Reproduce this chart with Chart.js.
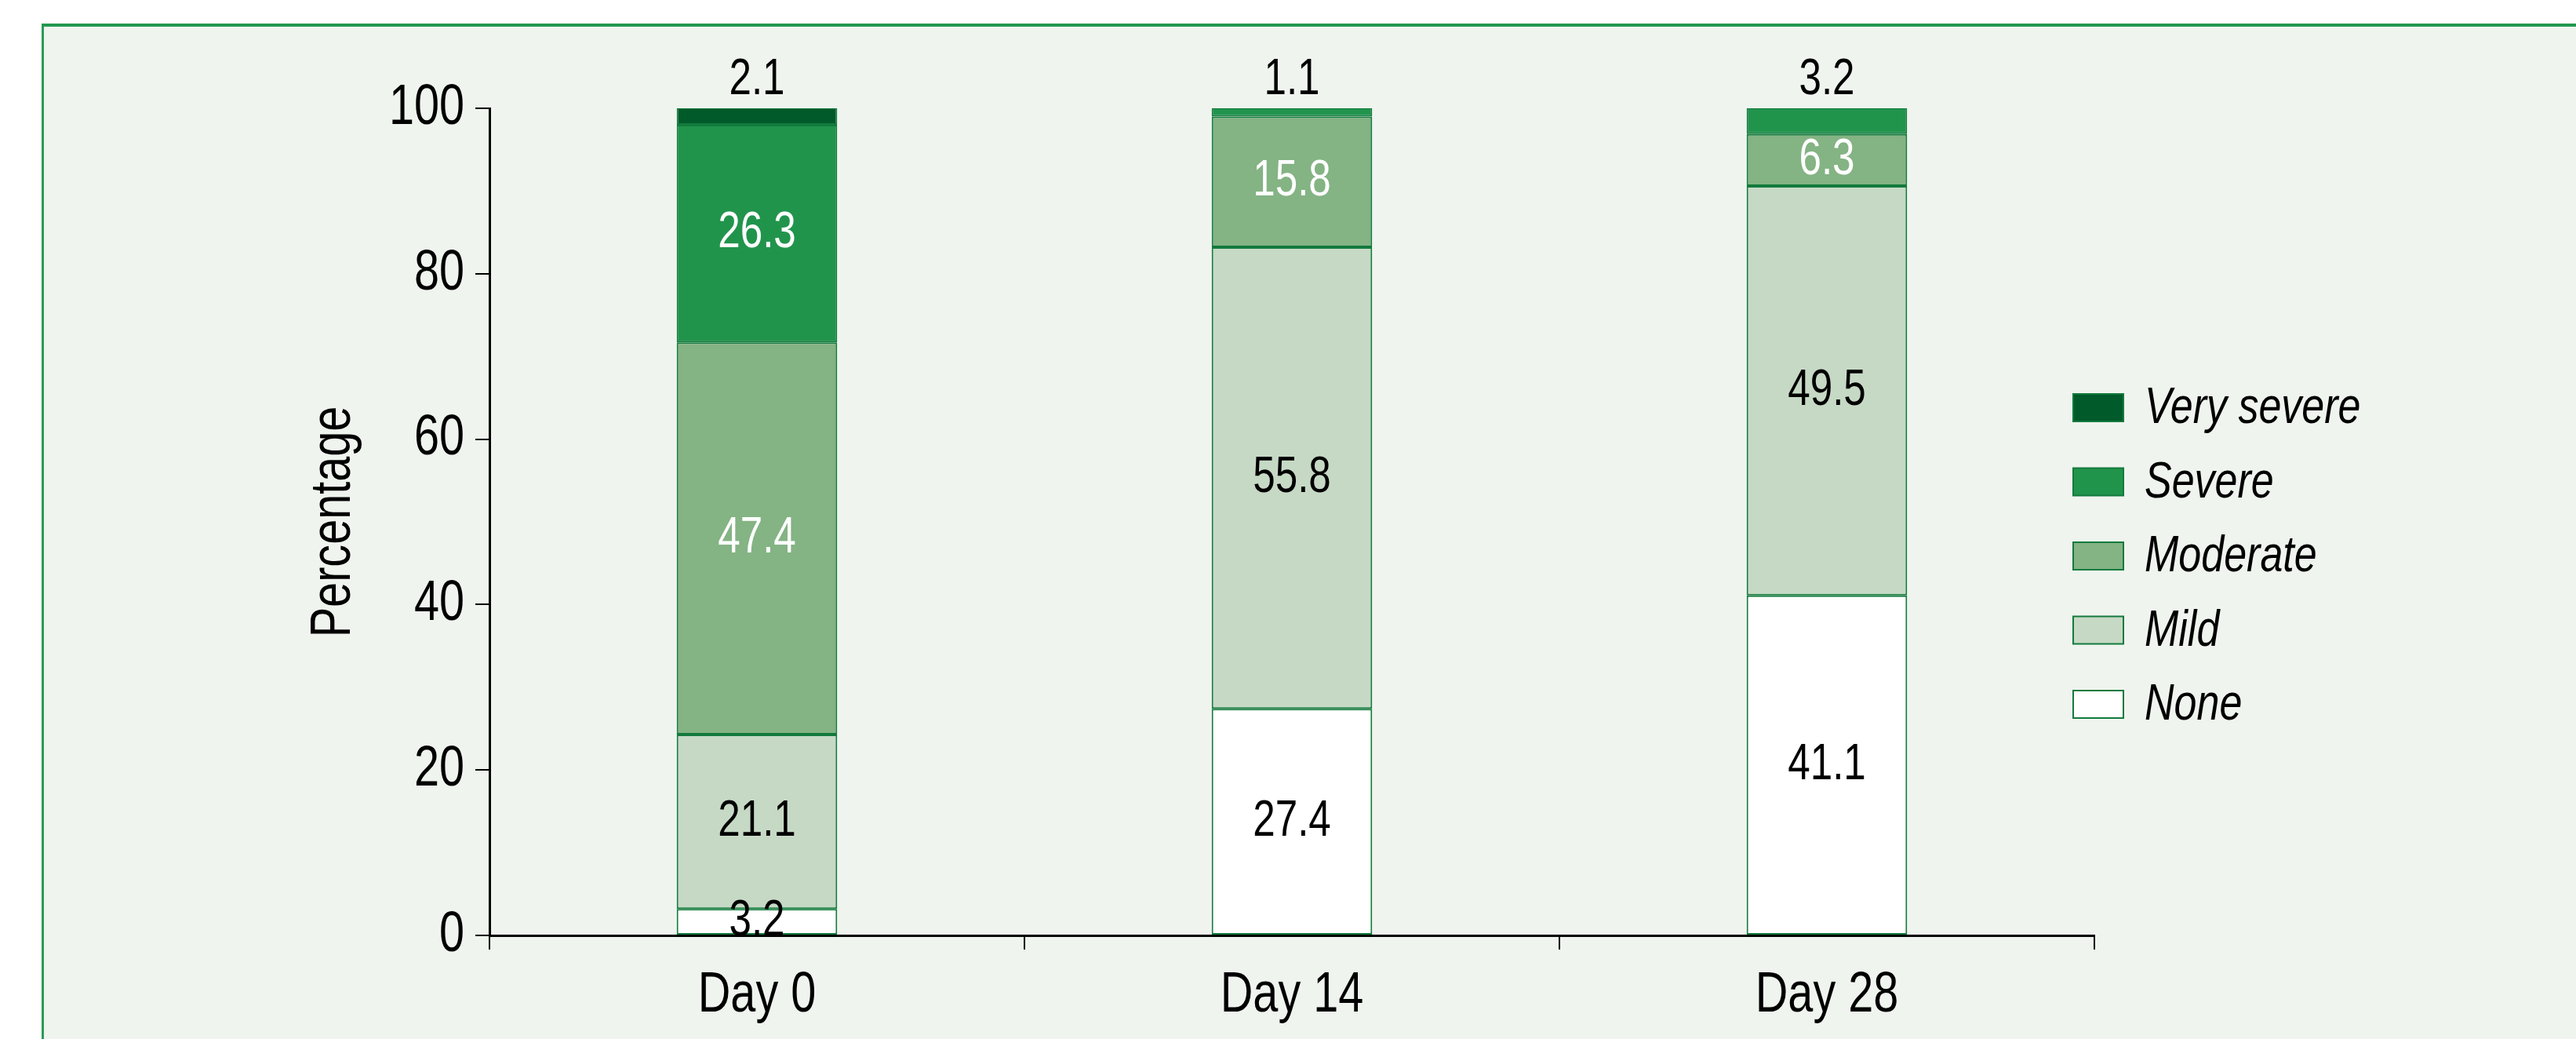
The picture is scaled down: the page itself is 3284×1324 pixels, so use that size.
<!DOCTYPE html>
<html>
<head>
<meta charset="utf-8">
<title>Severity by day</title>
<script src="https://cdn.jsdelivr.net/npm/chart.js@4.4.1/dist/chart.umd.min.js"></script>
<style>
  html, body { margin: 0; padding: 0; background: #fff; }
  body { width: 3284px; height: 1324px; position: relative; overflow: hidden; }
  .panel {
    position: absolute; left: 53px; top: 30px; right: 0; bottom: 0;
    background: #eff4ee;
    border-top: 4px solid #22984f;
    border-left: 3px solid #2a9a55;
  }
  .wrap { position: absolute; left: 0; top: 0; width: 3284px; height: 1324px; }
</style>
</head>
<body>
<div class="panel"></div>
<div class="wrap"><canvas id="severityChart"></canvas></div>
<script>
/* stacked severity bars, Day 0 / 14 / 28 */

const days = ['Day 0', 'Day 14', 'Day 28'];
const yTicks = [0, 20, 40, 60, 80, 100];

// bottom to top
const severityNames = ['None', 'Mild', 'Moderate', 'Severe', 'Very severe'];
const noneValues = [3.2, 27.4, 41.1];
const mildValues = [21.1, 55.8, 49.5];
const moderateValues = [47.4, 15.8, 6.3];
const severeValues = [26.3, 1.1, 3.2];
const verySevereValues = [2.1, 0, 0];

const fills = ['#ffffff', '#c6d9c5', '#84b384', '#21944c', '#005a2a'];
const textColours = ['#000', '#000', '#fff', '#fff', '#fff'];
const FONT = "'Liberation Sans Narrow', 'Arial Narrow', 'Liberation Sans', sans-serif";

const seriesValues = [noneValues, mildValues, moderateValues, severeValues, verySevereValues];

const datasets = severityNames.map((name, i) => ({
  label: name,
  data: seriesValues[i],
  backgroundColor: fills[i],
  borderColor: '#137a3d',
  borderWidth: 2,
  borderSkipped: false,
  categoryPercentage: 0.3,
  barPercentage: 1
}));

/* no narrow face installed: squeeze all canvas text horizontally */
const narrowText = {
  id: 'narrowText',
  beforeDraw(chart) {
    const ctx = chart.ctx;
    if (ctx._narrow) return;
    const fill = ctx.fillText.bind(ctx);
    ctx.fillText = function (text, x, y) {
      this.save();
      this.translate(x, y);
      this.scale(0.8, 1);
      fill(text, 0, 0);
      this.restore();
    };
    ctx._narrow = true;
  }
};

/* value labels: centred in segment, small top segments go above the bar */
const segmentLabels = {
  id: 'segmentLabels',
  afterDatasetsDraw(chart) {
    const ctx = chart.ctx;
    ctx.save();
    ctx.font = '64px ' + FONT;
    ctx.textAlign = 'center';
    ctx.textBaseline = 'middle';
    chart.data.labels.forEach((_, i) => {
      let top = -1;
      chart.data.datasets.forEach((ds, d) => { if (ds.data[i] > 0) top = d; });
      chart.data.datasets.forEach((ds, d) => {
        const v = ds.data[i];
        if (!v) return;
        const bar = chart.getDatasetMeta(d).data[i];
        if (d === top && v < 5) {
          ctx.fillStyle = '#000';
          ctx.fillText(v.toFixed(1), bar.x, chart.chartArea.top - 36);
        } else {
          ctx.fillStyle = textColours[d];
          ctx.fillText(v.toFixed(1), bar.x, (bar.y + bar.base) / 2);
        }
      });
    });
    ctx.restore();
  }
};

/* legend on the right, top entry = top of the stack */
const sideLegend = {
  id: 'sideLegend',
  afterDraw(chart) {
    const ctx = chart.ctx;
    const items = chart.data.datasets.slice().reverse();
    ctx.save();
    ctx.font = 'italic 65px ' + FONT;
    ctx.textAlign = 'left';
    ctx.textBaseline = 'middle';
    items.forEach((ds, i) => {
      const cy = 519 + i * 94.5;
      ctx.fillStyle = ds.backgroundColor;
      ctx.fillRect(2643, cy - 17, 64, 35);
      ctx.strokeStyle = ds.borderColor;
      ctx.lineWidth = 2;
      ctx.strokeRect(2643, cy - 17, 64, 35);
      ctx.fillStyle = '#000';
      ctx.fillText(ds.label, 2734, cy + 2);
    });
    ctx.restore();
  }
};

new Chart(document.getElementById('severityChart'), {
  type: 'bar',
  data: { labels: days, datasets: datasets },
  plugins: [narrowText, segmentLabels, sideLegend],
  options: {
    responsive: true,
    maintainAspectRatio: false,
    animation: false,
    layout: { padding: { left: 383, top: 138, right: 614, bottom: 0 } },
    plugins: { legend: { display: false }, tooltip: { enabled: false } },
    scales: {
      x: {
        stacked: true,
        grid: { drawOnChartArea: false, tickLength: 18, color: '#000', lineWidth: 2, offset: true },
        border: { color: '#000', width: 3 },
        ticks: { color: '#000', font: { family: FONT, size: 72 }, padding: 16 },
        afterFit: s => { s.height = 132; }
      },
      y: {
        stacked: true,
        min: 0,
        max: 100,
        afterBuildTicks: s => { s.ticks = yTicks.map(v => ({ value: v })); },
        grid: { drawOnChartArea: false, tickLength: 18, color: '#000', lineWidth: 2 },
        border: { color: '#000', width: 3 },
        ticks: { color: '#000', font: { family: FONT, size: 72 }, padding: 14 },
        title: { display: true, text: 'Percentage', color: '#000', font: { family: FONT, size: 72 }, padding: 0 },
        afterFit: s => { s.width = 624 - 383; }
      }
    }
  }
});
</script>
</body>
</html>
